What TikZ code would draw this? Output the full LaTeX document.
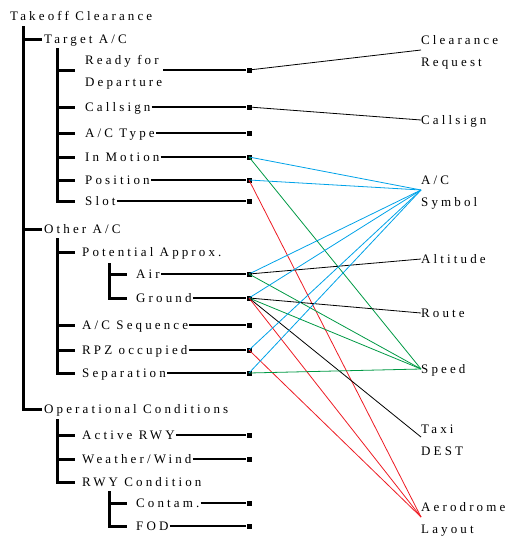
\documentclass[tikz,border=0pt]{standalone}
\usepackage{fontspec}
\setmainfont{Liberation Serif}[LetterSpace=24]
\definecolor{lblue}{RGB}{0,162,232}
\definecolor{lgreen}{RGB}{0,153,68}
\definecolor{lred}{RGB}{237,28,36}
\begin{document}
\begin{tikzpicture}[x=1pt,y=-1pt,
  lbl/.style={anchor=west,inner sep=0pt,align=left,text height=8.6pt,text depth=0pt,
    font=\fontsize{13}{22}\selectfont},
  bar/.style={line width=3pt,line cap=rect},
  itemline/.style={line width=2pt},
  mk/.style={fill=black,inner sep=0pt,minimum size=5pt,draw=none},
  link/.style={line width=0.8pt}]
\useasboundingbox (0,0) rectangle (511,538);
% tree labels (two-line labels are placed by their last line)
\node[lbl] (root) at (10,16) {Takeoff Clearance};
\node[lbl] (tgt) at (44,39) {Target A/C};
\node[lbl] (rdy) at (85,82) {Ready for\\Departure};
\node[lbl] (cs) at (85,107) {Callsign};
\node[lbl] (typ) at (85,133) {A/C Type};
\node[lbl] (mot) at (85,157) {In Motion};
\node[lbl] (pos) at (85,180) {Position};
\node[lbl] (slot) at (85,201) {Slot};
\node[lbl] (oth) at (44,229) {Other A/C};
\node[lbl] (pot) at (82,252) {Potential Approx.};
\node[lbl] (air) at (136,274) {Air};
\node[lbl] (gnd) at (136,298) {Ground};
\node[lbl] (seq) at (82,325) {A/C Sequence};
\node[lbl] (rpz) at (82,350) {RPZ occupied};
\node[lbl] (sep) at (82,373) {Separation};
\node[lbl] (ops) at (44,409) {Operational Conditions};
\node[lbl] (rwy) at (82,435) {Active RWY};
\node[lbl] (wx) at (82,459) {Weather/Wind};
\node[lbl] (rcond) at (82,482) {RWY Condition};
\node[lbl] (cont) at (136,503) {Contam.};
\node[lbl] (fod) at (136,526) {FOD};
% right labels
\node[lbl] (clr) at (421,62) {Clearance\\Request};
\node[lbl] (rcs) at (421,120) {Callsign};
\node[lbl] (acs) at (421,202) {A/C\\Symbol};
\node[lbl] (alt) at (421,259) {Altitude};
\node[lbl] (rte) at (421,313) {Route};
\node[lbl] (spd) at (421,369) {Speed};
\node[lbl] (taxi) at (421,451) {Taxi\\DEST};
\node[lbl] (aero) at (421,529) {Aerodrome\\Layout};
\coordinate (clrp) at ([yshift=12pt]clr.west);
\coordinate (acsp) at ([yshift=12pt]acs.west);
\coordinate (taxip) at ([yshift=14pt]taxi.west);
\coordinate (aerop) at ([yshift=12pt]aero.west);
% tree bars
\coordinate (b0) at (23,27);
\coordinate (b1) at (57,49);
\coordinate (b2) at (57,239);
\coordinate (b3) at (109,264);
\coordinate (b4) at (57,420);
\coordinate (b5) at (109,492);
\draw[bar] (b0) |- ([xshift=-4pt]ops.west);
\draw[bar] (b0 |- tgt.west) -- ([xshift=-4pt]tgt.west);
\draw[bar] (b0 |- oth.west) -- ([xshift=-4pt]oth.west);
\draw[bar] (b1) |- ([xshift=-12pt]slot.west);
\foreach \n in {cs,typ,mot,pos} \draw[bar] (b1 |- \n.west) -- ([xshift=-12pt]\n.west);
\draw[bar] (57,70) -- (73,70);
\draw[bar] (b2) |- ([xshift=-9pt]sep.west);
\foreach \n in {pot,seq,rpz} \draw[bar] (b2 |- \n.west) -- ([xshift=-9pt]\n.west);
\draw[bar] (b3) |- ([xshift=-11pt]gnd.west);
\draw[bar] (b3 |- air.west) -- ([xshift=-11pt]air.west);
\draw[bar] (b4) |- ([xshift=-9pt]rcond.west);
\foreach \n in {rwy,wx} \draw[bar] (b4 |- \n.west) -- ([xshift=-9pt]\n.west);
\draw[bar] (b5) |- ([xshift=-11pt]fod.west);
\draw[bar] (b5 |- cont.west) -- ([xshift=-11pt]cont.west);
% markers and item lines
\node[mk] (mrdy) at (249,70) {};
\draw[itemline] ([xshift=1pt]rdy.east |- mrdy) -- (mrdy);
\foreach \n in {cs,typ,mot,pos,slot,air,gnd,seq,rpz,sep,rwy,wx,cont,fod}{
  \node[mk] (m\n) at (249,0 |- \n.west) {};
  \draw[itemline] ([xshift=1pt]\n.east) -- (m\n);
}
% links
\draw[link,black] (mrdy.center) -- (clrp);
\draw[link,black] (mcs.center) -- (rcs.west);
\draw[link,lblue] (mmot.center) -- (acsp);
\draw[link,lgreen] (mmot.center) -- (spd.west);
\draw[link,lblue] (mpos.center) -- (acsp);
\draw[link,lred] (mpos.center) -- (aerop);
\draw[link,lblue] (mair.center) -- (acsp);
\draw[link,black] (mair.center) -- (alt.west);
\draw[link,lgreen] (mair.center) -- (spd.west);
\draw[link,lblue] (mgnd.center) -- (acsp);
\draw[link,black] (mgnd.center) -- (rte.west);
\draw[link,lgreen] (mgnd.center) -- (spd.west);
\draw[link,black] (mgnd.center) -- (taxip);
\draw[link,lred] (mgnd.center) -- (aerop);
\draw[link,lblue] (mrpz.center) -- (acsp);
\draw[link,lred] (mrpz.center) -- (aerop);
\draw[link,lblue] (msep.center) -- (acsp);
\draw[link,lgreen] (msep.center) -- (spd.west);
\end{tikzpicture}
\end{document}
